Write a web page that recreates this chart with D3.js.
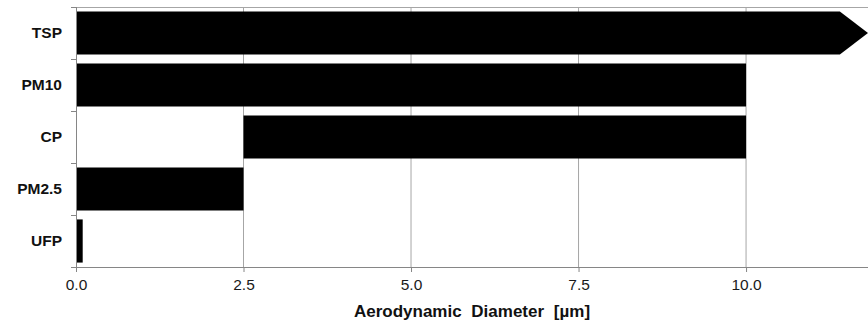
<!DOCTYPE html>
<html>
<head>
<meta charset="utf-8">
<script src="https://cdn.jsdelivr.net/npm/d3@7"></script>
<style>
  body { margin: 0; background: #fff; }
  text { font-family: "Liberation Sans", Arial, sans-serif; }
</style>
</head>
<body>
<div id="chart"></div>
<script>
// data
var categories = ["TSP", "PM10", "CP", "PM2.5", "UFP"];
var starts = [0, 0, 2.5, 0, 0];
var ends = [11.4, 10, 10, 2.5, 0.1];
var arrowTips = [11.82, null, null, null, null];   // TSP is open ended
var xTicks = [0, 2.5, 5, 7.5, 10];

var width = 868, height = 324;
var margin = {top: 7, right: 0, bottom: 57, left: 76};

var svg = d3.select("#chart")
  .append("svg")
  .attr("width", width)
  .attr("height", height);

var x = d3.scaleLinear()
  .domain([0, 11.82])
  .range([margin.left, width - margin.right]);

var y = d3.scaleBand()
  .domain(categories)
  .range([margin.top, height - margin.bottom])
  .paddingInner(0.17)
  .paddingOuter(0.085);

var bottom = height - margin.bottom;

// vertical gridlines
svg.append("g")
  .selectAll("line")
  .data(xTicks.slice(1))
  .enter()
  .append("line")
  .attr("x1", function(d) { return x(d); })
  .attr("x2", function(d) { return x(d); })
  .attr("y1", margin.top)
  .attr("y2", bottom)
  .attr("stroke", "#a6a6a6")
  .attr("stroke-width", 1);

// top border
svg.append("line")
  .attr("x1", margin.left - 5).attr("x2", width)
  .attr("y1", margin.top + 0.5).attr("y2", margin.top + 0.5)
  .attr("stroke", "#a6a6a6");

// bars
var data = categories.map(function(c, i) {
  return {cat: c, start: starts[i], end: ends[i], tip: arrowTips[i]};
});

svg.append("g")
  .selectAll("path")
  .data(data)
  .enter()
  .append("path")
  .attr("fill", "#000")
  .attr("d", function(d) {
    var y0 = y(d.cat), y1 = y(d.cat) + y.bandwidth();
    var p = d3.path();
    p.moveTo(x(d.start), y0);
    p.lineTo(x(d.end), y0);
    if (d.tip != null) p.lineTo(x(d.tip), (y0 + y1) / 2);
    p.lineTo(x(d.end), y1);
    p.lineTo(x(d.start), y1);
    p.closePath();
    return p.toString();
  });

// x axis
var xAxis = svg.append("g")
  .attr("transform", "translate(0," + bottom + ")")
  .call(d3.axisBottom(x).tickValues(xTicks).tickFormat(d3.format(".1f")).tickSizeOuter(0).tickSize(5));
xAxis.select(".domain").attr("stroke", "#868686");
xAxis.selectAll(".tick line").attr("stroke", "#868686");
xAxis.selectAll("text")
  .attr("dy", "0.95em")
  .style("font-family", "Liberation Sans, Arial, sans-serif")
  .style("font-size", "15.5px")
  .attr("fill", "#1a1a1a");

// y axis: ticks at the band edges, labels in the middle
var edges = categories.map(function(c) { return y(c) - y.step() * y.paddingInner() / 2; });
edges.push(bottom);

var yAxis = svg.append("g");
yAxis.append("line")
  .attr("x1", margin.left + 0.5).attr("x2", margin.left + 0.5)
  .attr("y1", margin.top).attr("y2", bottom + 5)
  .attr("stroke", "#868686");
yAxis.selectAll(".ytick")
  .data(edges)
  .enter()
  .append("line")
  .attr("class", "ytick")
  .attr("x1", margin.left - 5).attr("x2", margin.left)
  .attr("y1", function(d) { return Math.round(d) + 0.5; })
  .attr("y2", function(d) { return Math.round(d) + 0.5; })
  .attr("stroke", "#868686");
yAxis.selectAll(".ylab")
  .data(categories)
  .enter()
  .append("text")
  .attr("class", "ylab")
  .attr("x", margin.left - 14)
  .attr("y", function(d) { return y(d) + y.bandwidth() / 2; })
  .attr("dy", "0.35em")
  .attr("text-anchor", "end")
  .style("font-size", "15.5px")
  .style("font-weight", "bold")
  .attr("fill", "#111")
  .text(function(d) { return d; });

// axis title
svg.append("text")
  .attr("x", (margin.left + width) / 2)
  .attr("y", 317)
  .attr("text-anchor", "middle")
  .style("font-size", "17px")
  .style("font-weight", "bold")
  .style("word-spacing", "5px")
  .attr("fill", "#111")
  .text("Aerodynamic Diameter [µm]");
</script>
</body>
</html>
